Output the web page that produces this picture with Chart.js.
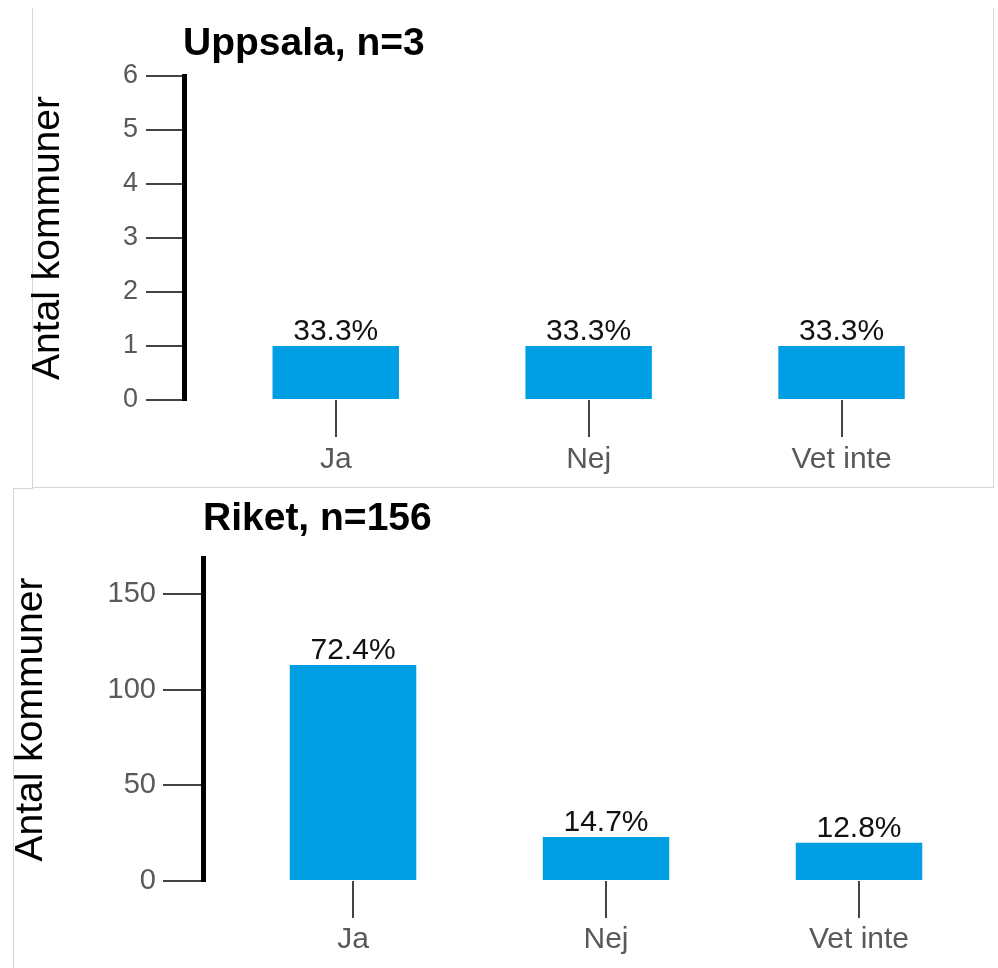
<!DOCTYPE html>
<html>
<head>
<meta charset="utf-8">
<script src="https://cdn.jsdelivr.net/npm/chart.js@4.4.1/dist/chart.umd.min.js"></script>
<style>
    body { margin: 0; width: 998px; height: 968px; background: #fff; position: relative; overflow: hidden; font-family: "Liberation Sans", Arial, sans-serif; }
    .panel { position: absolute; border-color: #d6d6d6; border-style: solid; border-width: 0; }
    .top-panel { left: 32px; top: 8px; width: 960px; height: 479px; border-left-width: 1px; border-right-width: 1px; border-bottom-width: 1px; }
    .bottom-panel { left: 13px; top: 489px; width: 985px; height: 479px; border-left-width: 1px; }
    .bottom-edge { left: 13px; top: 488px; width: 20px; height: 0; border-top-width: 1px; }
    .title { position: absolute; font-weight: bold; font-size: 39px; line-height: 39px; color: #000; white-space: nowrap; }
    canvas { position: absolute; left: 0; }
</style>
</head>
<body>
<div class="panel top-panel"></div>
<div class="panel bottom-panel"></div>
<div class="panel bottom-edge"></div>

<canvas id="uppsala" width="998" height="488" style="top:0"></canvas>
<canvas id="riket" width="998" height="480" style="top:488px"></canvas>

<div class="title" style="left:183px; top:22px">Uppsala, n=3</div>
<div class="title" style="left:203px; top:497px">Riket, n=156</div>

<script>
    // Data
    const categories = ['Ja', 'Nej', 'Vet inte']

    const uppsalaCounts = [1, 1, 1]
    const uppsalaLabels = ['33.3%', '33.3%', '33.3%']

    const riketCounts = [113, 23, 20]
    const riketLabels = ['72.4%', '14.7%', '12.8%']

    const yTitle = 'Antal kommuner'
    const barColor = '#009fe3'
    const fontFamily = '"Liberation Sans", Arial, sans-serif'

    Chart.defaults.font.family = fontFamily

    // Procent ovanför staplarna
    const percentPlugin = {
        id: 'percentLabels',
        afterDatasetsDraw(chart, args, opts) {
            const ctx = chart.ctx
            const meta = chart.getDatasetMeta(0)
            ctx.save()
            ctx.font = `${opts.size}px ${fontFamily}`
            ctx.fillStyle = '#111'
            ctx.textAlign = 'center'
            ctx.textBaseline = 'alphabetic'
            meta.data.forEach((bar, i) => {
                ctx.fillText(opts.labels[i], bar.x, bar.y - 6)
            })
            ctx.restore()
        }
    }

    function makeChart(id, counts, labels, s) {
        const ctx = document.getElementById(id).getContext('2d')
        return new Chart(ctx, {
            type: 'bar',
            data: {
                datasets: [{
                    data: counts.map((v, i) => ({x: i, y: v})),
                    backgroundColor: barColor,
                    borderWidth: 0,
                    categoryPercentage: 1,
                    barPercentage: 0.5
                }]
            },
            plugins: [percentPlugin],
            options: {
                responsive: false,
                animation: false,
                events: [],
                layout: {padding: {top: s.padTop, right: s.padRight, left: 0, bottom: 0}},
                plugins: {
                    legend: {display: false},
                    tooltip: {enabled: false},
                    percentLabels: {labels: labels, size: 30}
                },
                scales: {
                    x: {
                        type: 'linear',
                        min: s.xMin,
                        max: 2.5,
                        offset: false,
                        afterFit: scale => { scale.height = s.xHeight },
                        border: {display: false},
                        grid: {offset: false, drawOnChartArea: false, drawTicks: true, tickLength: 37, color: '#444', lineWidth: 2},
                        ticks: {
                            stepSize: 1,
                            includeBounds: false,
                            maxRotation: 0,
                            autoSkip: false,
                            padding: s.xPad,
                            color: '#595959',
                            font: {size: 30},
                            callback: v => categories[v] ?? ''
                        }
                    },
                    y: {
                        min: 0,
                        max: s.yMax,
                        afterFit: scale => { scale.width = s.yWidth },
                        border: {display: true, color: '#000', width: 5},
                        grid: {drawOnChartArea: false, drawTicks: true, tickLength: s.tickLength, color: '#444', lineWidth: 2},
                        ticks: {
                            stepSize: s.yStep,
                            includeBounds: false,
                            padding: s.yPad,
                            color: '#595959',
                            font: {size: s.yFont}
                        },
                        title: {
                            display: true,
                            text: yTitle,
                            color: '#000',
                            font: {size: 39},
                            padding: {top: s.titlePad, bottom: 0}
                        }
                    }
                }
            }
        })
    }

    makeChart('uppsala', uppsalaCounts, uppsalaLabels, {
        padTop: 76, padRight: 30, xMin: -0.6, xHeight: 88, xPad: 5,
        yMax: 6, yStep: 1, yWidth: 184, tickLength: 38, yPad: 8, yFont: 27, titlePad: 24.5
    })

    makeChart('riket', riketCounts, riketLabels, {
        padTop: 70, padRight: 12.5, xMin: -0.593, xHeight: 87, xPad: 4,
        yMax: 169, yStep: 50, yWidth: 203, tickLength: 40, yPad: 7, yFont: 29, titlePad: 7.5
    })
</script>
</body>
</html>
